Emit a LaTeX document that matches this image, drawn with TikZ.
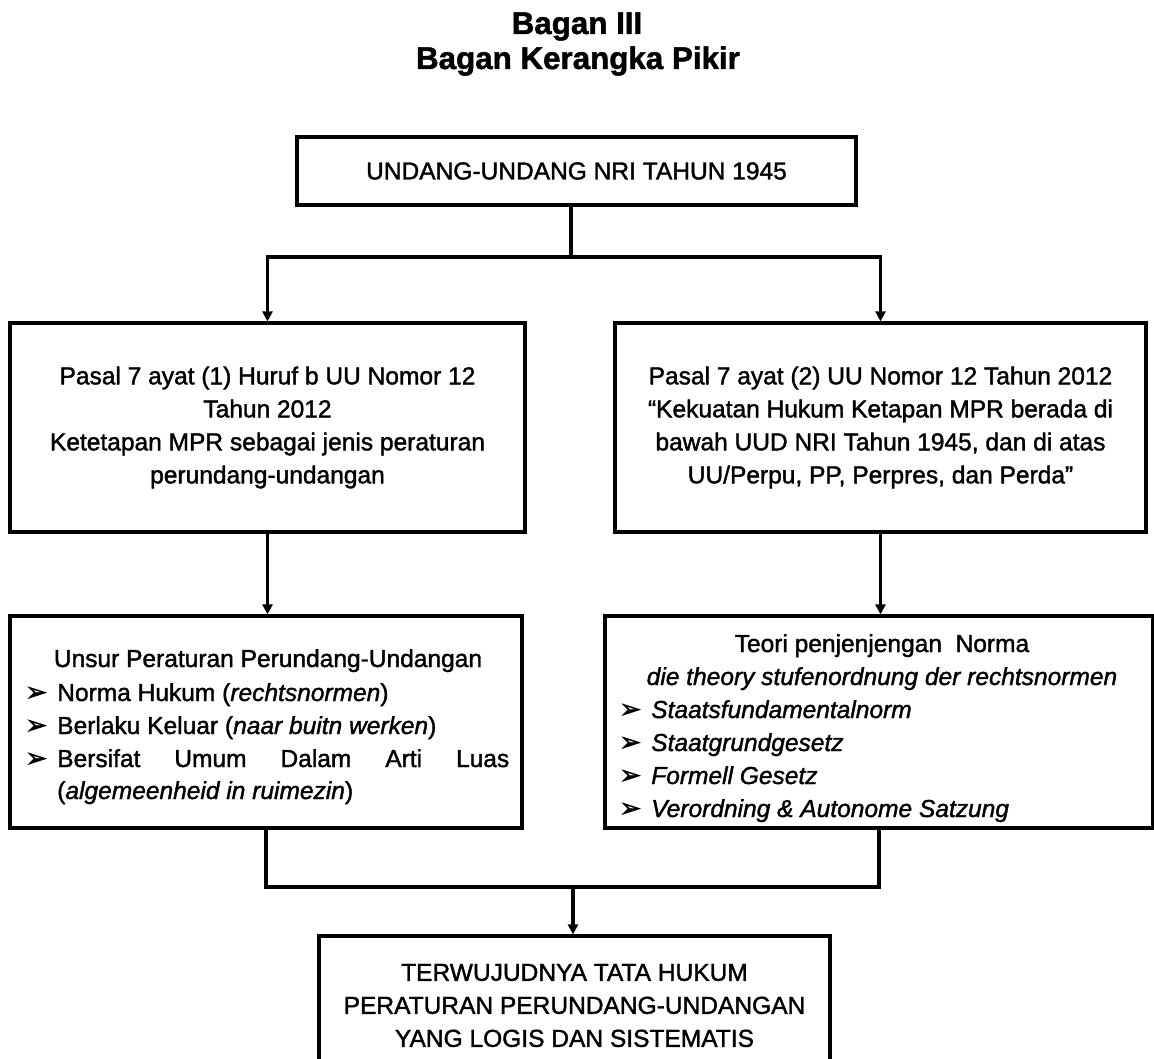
\documentclass[tikz,border=0pt]{standalone}
\usepackage{fontspec}
\setmainfont{Liberation Sans}[FakeBold=1.5]
\newfontfamily\dejavu{DejaVu Sans}[FakeBold=1.5]
\usetikzlibrary{arrows.meta}
\newcommand{\mybul}{\makebox[24pt][l]{\raisebox{0pt}{\dejavu\fontsize{20}{20}\selectfont ➢}}}
\begin{document}
\begin{tikzpicture}[x=0.75pt,y=-0.75pt,
  box/.style={draw, line width=2.4pt, inner sep=0pt},
  txt/.style={font=\fontsize{18.4}{24.75}\selectfont, inner sep=0pt},
  ttl/.style={font=\fontsize{23.5}{27}\selectfont\bfseries, inner sep=0pt},
  conn/.style={line width=2.4pt},
  arr/.style={conn, -{Triangle[length=7.5pt,width=7.5pt]}}]
\useasboundingbox (0,0) rectangle (1154,1059);
\fill[white] (0,0) rectangle (1154,1059);
\clip (0,0) rectangle (1154,1059);

% title
\node[ttl, anchor=base] (t1) at (577,34) {Bagan III};
\node[ttl, anchor=base] (t2) at (578,69) {Bagan Kerangka Pikir};

% boxes
\node[box, txt, minimum width=419.25pt, minimum height=51pt] (top) at (576.5,171) {UNDANG-UNDANG NRI TAHUN 1945};

\node[box, txt, align=center, minimum width=386.25pt, minimum height=156.75pt] (l2) at (267.5,427.5)
  {Pasal 7 ayat (1) Huruf b UU Nomor 12\\Tahun 2012\\Ketetapan MPR sebagai jenis peraturan\\perundang-undangan};

\node[box, txt, align=center, minimum width=398.25pt, minimum height=156.75pt] (r2) at (880.5,427.5)
  {Pasal 7 ayat (2) UU Nomor 12 Tahun 2012\\“Kekuatan Hukum Ketapan MPR berada di\\bawah UUD NRI Tahun 1945, dan di atas\\UU/Perpu, PP, Perpres, dan Perda”};

\node[box, minimum width=384pt, minimum height=159pt] (l3) at (266,722) {};
\node[box, minimum width=411pt, minimum height=159pt] (r3) at (879,722) {};

\node[box, txt, align=center, minimum width=383.25pt, minimum height=104.25pt] (bot) at (574.5,1005.5)
  {TERWUJUDNYA TATA HUKUM\\PERATURAN PERUNDANG-UNDANGAN\\YANG LOGIS DAN SISTEMATIS};

% left list
\node[txt, anchor=base] (l3h) at (268,667) {Unsur Peraturan Perundang-Undangan};
\node[txt, anchor=base west] (l3a) at (25,701) {\mybul Norma Hukum (\textit{rechtsnormen})};
\node[txt, anchor=base west] (l3b) at (25,734) {\mybul Berlaku Keluar (\textit{naar buitn werken})};
\node[txt, anchor=base west] (l3c) at (25,767) {\mybul\makebox[339pt][s]{Bersifat Umum Dalam Arti Luas}};
\node[txt, anchor=base west] (l3d) at (57,799) {(\textit{algemeenheid in ruimezin})};

% right list
\node[txt, anchor=base] (r3h) at (882,652) {Teori penjenjengan\ \ Norma};
\node[txt, anchor=base] (r3i) at (882,685) {\textit{die theory stufenordnung der rechtsnormen}};
\node[txt, anchor=base west] (r3a) at (619,718) {\mybul\textit{Staatsfundamentalnorm}};
\node[txt, anchor=base west] (r3b) at (619,751) {\mybul\textit{Staatgrundgesetz}};
\node[txt, anchor=base west] (r3c) at (619,784) {\mybul\textit{Formell Gesetz}};
\node[txt, anchor=base west] (r3d) at (619,817) {\mybul\textit{Verordning \& Autonome Satzung}};

% connectors
\coordinate (j) at (571,257);
\coordinate (m) at (573,887);
\draw[conn] (top.south -| j) -- (j);
\draw[arr] (j) -| (l2.north);
\draw[arr] (j) -| (r2.north);
\draw[arr] (l2.south) -- (l2.south |- l3.north);
\draw[arr] (r2.south) -- (r2.south |- r3.north);
\draw[conn] (l3.south) |- (m) -| (r3.south);
\draw[arr] (m) -- (m |- bot.north);
\end{tikzpicture}
\end{document}
